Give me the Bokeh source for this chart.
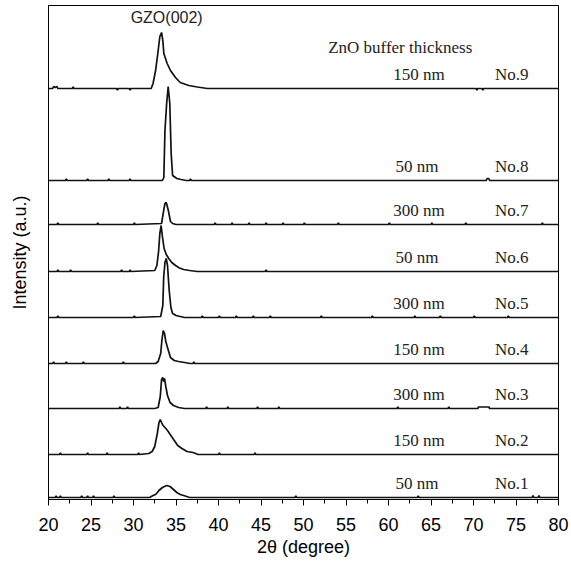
from bokeh.plotting import figure
from bokeh.models import Range1d, SingleIntervalTicker, FixedTicker, Label, ColumnDataSource, Title
from bokeh.core.properties import value
from bokeh.embed import file_html
from bokeh.resources import INLINE

# ---- data (2-theta in degrees, intensity in arbitrary units) ----
two_theta_no1 = [20, 20.8, 20.9, 21.0, 21.3, 21.4, 21.5, 23.8, 23.9, 24.0, 24.5, 24.6, 24.7, 25.2, 25.3, 25.4,
                 27.6, 27.7, 27.8, 31.9, 32.3, 32.6, 33.0, 33.4, 33.9, 34.3, 34.7, 35.1, 35.5, 35.9, 36.6,
                 49.0, 49.1, 49.2, 63.4, 63.5, 63.6, 76.9, 77.0, 77.1, 77.6, 77.7, 77.8, 80]
intensity_no1 = [0, 0, 1.5, 0, 0, 1.5, 0, 0, 1.5, 0, 0, 1.5, 0, 0, 1.5, 0,
                 0, 1.5, 0, 0, 2, 3, 7, 10, 12, 11, 8, 5, 3, 2, 0,
                 0, 1.5, 0, 0, 1.5, 0, 0, 2, 0, 0, 2, 0, 0]

two_theta_no2 = [20, 21.3, 21.4, 21.5, 24.5, 24.6, 24.7, 26.8, 26.9, 27.0, 30.5, 30.6, 30.7,
                 31.8, 32.2, 32.5, 32.8, 33.0, 33.15, 33.4, 33.7, 34.0, 34.4, 34.8, 35.2, 35.7, 36.3, 37.0, 37.6,
                 40.0, 40.1, 40.2, 44.2, 44.3, 44.4, 80]
intensity_no2 = [0, 0, 1.5, 0, 0, 1.5, 0, 0, 1.5, 0, 0, 1.5, 0,
                 1, 3, 8, 21, 32, 35, 30, 27, 24, 19, 14, 9, 6, 3, 2, 0,
                 0, 1.5, 0, 0, 1.5, 0, 0]

two_theta_no3 = [20, 28.3, 28.4, 28.5, 29.2, 29.3, 29.4,
                 32.5, 32.9, 33.15, 33.3, 33.45, 33.55, 33.65, 33.8, 34.0, 34.3, 34.7, 35.3, 36.0,
                 38.5, 38.6, 38.7, 41.0, 41.1, 41.2, 44.5, 44.6, 44.7, 47.0, 47.1, 47.2,
                 61.0, 61.1, 61.2, 67.0, 67.1, 67.2, 70.5, 70.6, 71.8, 71.9, 80]
intensity_no3 = [0, 0, 1.5, 0, 0, 1.5, 0,
                 0, 1, 12, 29, 31, 27, 30, 22, 13, 6, 3, 1, 0,
                 0, 1.5, 0, 0, 1.5, 0, 0, 1.5, 0, 0, 1.5, 0,
                 0, 1.5, 0, 0, 1.5, 0, 0, 1.5, 1.5, 0, 0]

two_theta_no4 = [20, 20.5, 20.6, 20.7, 22.0, 22.1, 22.2, 24.0, 24.1, 24.2, 28.7, 28.8, 28.9,
                 32.6, 32.9, 33.2, 33.35, 33.5, 33.65, 33.8, 34.0, 34.35, 34.8, 35.3, 36.0, 36.7,
                 37.0, 37.1, 37.2, 80]
intensity_no4 = [0, 0, 1.5, 0, 0, 1.5, 0, 0, 1.5, 0, 0, 1.5, 0,
                 0, 2, 10, 24, 33, 30, 22, 16, 6, 3, 2, 1, 0,
                 0, 1.5, 0, 0]

two_theta_no5 = [20, 21.0, 21.1, 21.2, 30.0, 30.1, 30.2,
                 33.2, 33.45, 33.55, 33.7, 33.85, 34.0, 34.2, 34.4, 34.6, 35.0, 35.5, 36.0,
                 38.0, 38.1, 38.2, 40.0, 40.1, 40.2, 42.0, 42.1, 42.2, 44.0, 44.1, 44.2,
                 46.0, 46.1, 46.2, 52.0, 52.1, 52.2, 58.0, 58.1, 58.2, 63.0, 63.1, 63.2,
                 66.0, 66.1, 66.2, 70.0, 70.1, 70.2, 74.0, 74.1, 74.2, 80]
intensity_no5 = [0, 0, 1.5, 0, 0, 1.5, 0,
                 1, 12, 40, 55, 59, 52, 27, 10, 4, 2, 1, 0,
                 0, 1.5, 0, 0, 1.5, 0, 0, 1.5, 0, 0, 1.5, 0,
                 0, 1.5, 0, 0, 1.5, 0, 0, 1.5, 0, 0, 1.5, 0,
                 0, 1.5, 0, 0, 1.5, 0, 0, 1.5, 0, 0]

two_theta_no6 = [20, 21.0, 21.1, 21.2, 22.5, 22.6, 22.7, 28.5, 28.6, 28.7, 29.5, 29.6, 29.7,
                 32.5, 32.75, 32.95, 33.1, 33.25, 33.4, 33.6, 33.85, 34.15, 34.5, 34.95, 35.4, 35.9, 36.6, 37.5,
                 45.5, 45.6, 45.7, 80]
intensity_no6 = [0, 0, 1.5, 0, 0, 1.5, 0, 0, 1.5, 0, 0, 1.5, 0,
                 1, 6, 20, 38, 46, 35, 23, 17, 13, 9, 6, 3.5, 2, 1, 0,
                 0, 1.5, 0, 0]

two_theta_no7 = [20, 21.0, 21.1, 21.2, 25.7, 25.8, 25.9, 30.0, 30.1, 30.2,
                 33.3, 33.55, 33.7, 33.85, 33.95, 34.1, 34.35, 34.6, 35.0,
                 39.5, 39.6, 39.7, 41.5, 41.6, 41.7, 43.5, 43.6, 43.7, 45.5, 45.6, 45.7,
                 47.5, 47.6, 47.7, 50.0, 50.1, 50.2, 54.0, 54.1, 54.2, 60.0, 60.1, 60.2,
                 65.0, 65.1, 65.2, 69.0, 69.1, 69.2, 78.0, 78.1, 78.2, 80]
intensity_no7 = [0, 0, 1.5, 0, 0, 1.5, 0, 0, 1.5, 0,
                 1, 14, 21, 22, 19, 14, 3, 1, 0,
                 0, 1.5, 0, 0, 1.5, 0, 0, 1.5, 0, 0, 1.5, 0,
                 0, 1.5, 0, 0, 1.5, 0, 0, 1.5, 0, 0, 1.5, 0,
                 0, 1.5, 0, 0, 1.5, 0, 0, 1.5, 0, 0]

two_theta_no8 = [20, 22.0, 22.1, 22.2, 24.5, 24.6, 24.7, 27.0, 27.1, 27.2, 29.5, 29.6, 29.7,
                 33.4, 33.57, 33.7, 33.9, 34.08, 34.27, 34.43, 34.6, 35.1, 35.6, 36.2,
                 36.6, 36.7, 36.8, 71.5, 71.6, 71.8, 71.9, 80]
intensity_no8 = [0, 0, 1.5, 0, 0, 1.5, 0, 0, 1.5, 0, 0, 1.5, 0,
                 0, 3, 50, 77, 94, 77, 27, 5, 2, 1, 0,
                 0, 1.5, 0, 0, 2, 2, 0, 0]

two_theta_no9 = [20, 20.5, 20.6, 20.8, 21.0, 21.1, 22.8, 22.9, 23.0, 28.0, 28.1, 28.2, 29.5, 29.6, 29.7,
                 32.08, 32.3, 32.6, 32.86, 33.1, 33.3, 33.45, 33.57, 33.96, 34.35, 34.94, 35.5, 36.5, 37.5, 38.7,
                 70.3, 70.4, 70.5, 71.0, 71.1, 71.2, 80]
intensity_no9 = [0, 0, 2, 1, 2, 0, 0, 1.5, 0, 0, -1.5, 0, 0, -1.5, 0,
                 0, 5, 18, 35, 52, 56, 48, 35, 25, 18, 11, 6, 3, 1.5, 0,
                 0, -1.5, 0, 0, -1.5, 0, 0]

# vertical stacking offsets of the nine patterns (No.1 .. No.9)
stack_offsets = [2, 45, 91, 136, 182, 228, 275, 319, 411]
sample_names = ["No.1", "No.2", "No.3", "No.4", "No.5", "No.6", "No.7", "No.8", "No.9"]
buffer_thickness = ["50  nm", "150 nm", "300 nm", "150 nm", "300 nm", "50  nm", "300 nm", "50  nm", "150 nm"]

traces = [
    (two_theta_no1, intensity_no1), (two_theta_no2, intensity_no2), (two_theta_no3, intensity_no3),
    (two_theta_no4, intensity_no4), (two_theta_no5, intensity_no5), (two_theta_no6, intensity_no6),
    (two_theta_no7, intensity_no7), (two_theta_no8, intensity_no8), (two_theta_no9, intensity_no9),
]

# ---- figure ----
p = figure(frame_width=510, frame_height=494, output_backend="svg", toolbar_location=None,
           x_range=Range1d(20, 80), y_range=Range1d(0, 494),
           min_border_left=48, min_border_right=13, min_border_top=5, min_border_bottom=65)
p.background_fill_color = "white"
p.border_fill_color = "white"
p.outline_line_color = "black"
p.outline_line_width = 1
p.xgrid.visible = False
p.ygrid.visible = False

ink = "#111111"
for (xs, ys), off in zip(traces, stack_offsets):
    p.line(xs, [off + v for v in ys], line_color=ink, line_width=1.7)

# x axis
xa = p.xaxis[0]
xa.ticker = SingleIntervalTicker(interval=5, num_minor_ticks=2)
xa.major_tick_out = 6
xa.major_tick_in = 0
xa.minor_tick_out = 4
xa.minor_tick_in = 0
xa.axis_line_color = "black"
xa.major_tick_line_color = "black"
xa.minor_tick_line_color = "black"
xa.major_label_text_font = "Liberation Sans"
xa.major_label_text_font_size = "18px"
xa.major_label_text_color = "black"
xa.major_label_standoff = 12

# y axis: line only, no ticks
ya = p.yaxis[0]
ya.ticker = FixedTicker(ticks=[])
ya.major_tick_out = 0
ya.major_tick_in = 0
ya.minor_tick_out = 0
ya.minor_tick_in = 0
ya.major_label_standoff = 0
ya.axis_label = "Intensity (a.u.)"
ya.axis_label_text_font = "Liberation Sans"
ya.axis_label_text_font_size = "18px"
ya.axis_label_text_font_style = "normal"
ya.axis_label_text_color = "black"
ya.axis_label_standoff = 19

# x axis title (slightly right of centre, as in the reference)
xt = Title(text="2θ (degree)", align="center", offset=25, standoff=2,
           text_font="Liberation Sans", text_font_size="18px", text_font_style="normal", text_color="black")
p.add_layout(xt, "below")

# peak annotation and header
p.add_layout(Label(x=33.9, y=482, text="GZO(002)", text_align="center", text_baseline="middle",
                   text_font="Liberation Sans", text_font_size="16px", text_color="#222222"))
p.add_layout(Label(x=52.9, y=452, text="ZnO buffer thickness", text_align="left", text_baseline="middle",
                   text_font="Liberation Serif", text_font_size="17px", text_color="#222222"))

label_src = ColumnDataSource(dict(
    ly=[off + 14 for off in stack_offsets],
    thick=buffer_thickness,
    name=sample_names,
))
p.text(x=63.6, y="ly", text="thick", source=label_src, text_align="center", text_baseline="middle",
       text_font=value("Liberation Serif"), text_font_size="17px", text_color="#222222")
p.text(x=74.5, y="ly", text="name", source=label_src, text_align="center", text_baseline="middle",
       text_font=value("Liberation Serif"), text_font_size="17px", text_color="#222222")

open("out.html", "w").write(file_html(p, INLINE))
